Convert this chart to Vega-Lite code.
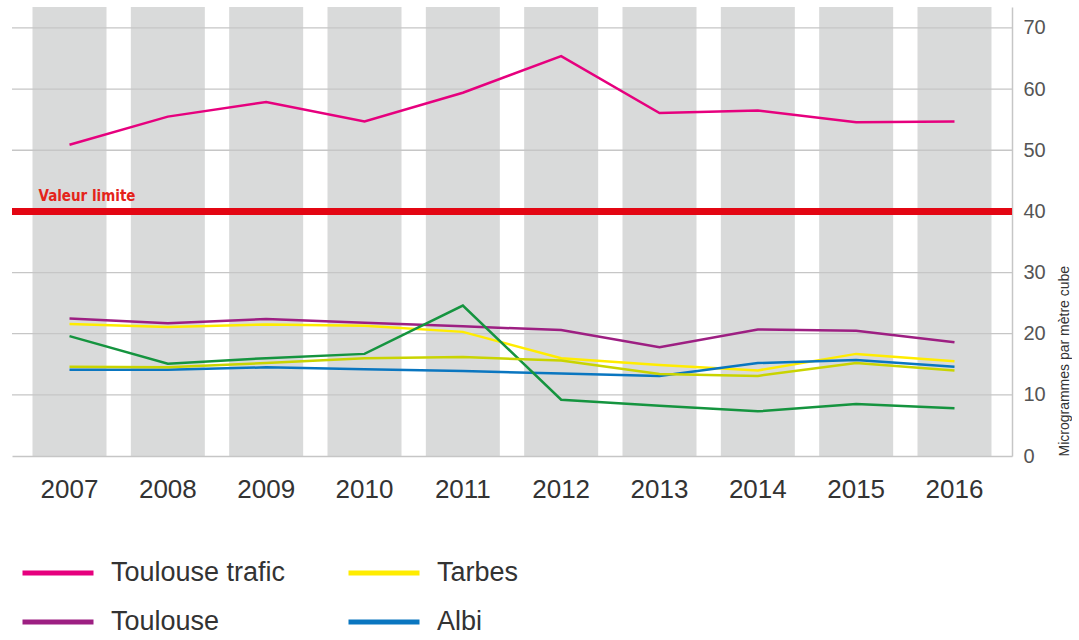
{
  "$schema": "https://vega.github.io/schema/vega-lite/v6.json",
  "width": 1000,
  "height": 449,
  "padding": {"left": 8, "top": 7, "right": 0, "bottom": 0},
  "background": "white",
  "config": {"view": {"stroke": null}, "font": "Liberation Sans"},
  "datasets": {
    "mesures": [
      {"annee": "2007", "site": "Toulouse trafic", "valeur": 50.9},
      {"annee": "2008", "site": "Toulouse trafic", "valeur": 55.5},
      {"annee": "2009", "site": "Toulouse trafic", "valeur": 57.9},
      {"annee": "2010", "site": "Toulouse trafic", "valeur": 54.7},
      {"annee": "2011", "site": "Toulouse trafic", "valeur": 59.4},
      {"annee": "2012", "site": "Toulouse trafic", "valeur": 65.4},
      {"annee": "2013", "site": "Toulouse trafic", "valeur": 56.1},
      {"annee": "2014", "site": "Toulouse trafic", "valeur": 56.5},
      {"annee": "2015", "site": "Toulouse trafic", "valeur": 54.6},
      {"annee": "2016", "site": "Toulouse trafic", "valeur": 54.7},
      {"annee": "2007", "site": "Toulouse", "valeur": 22.5},
      {"annee": "2008", "site": "Toulouse", "valeur": 21.7},
      {"annee": "2009", "site": "Toulouse", "valeur": 22.4},
      {"annee": "2010", "site": "Toulouse", "valeur": 21.8},
      {"annee": "2011", "site": "Toulouse", "valeur": 21.2},
      {"annee": "2012", "site": "Toulouse", "valeur": 20.6},
      {"annee": "2013", "site": "Toulouse", "valeur": 17.8},
      {"annee": "2014", "site": "Toulouse", "valeur": 20.7},
      {"annee": "2015", "site": "Toulouse", "valeur": 20.5},
      {"annee": "2016", "site": "Toulouse", "valeur": 18.6},
      {"annee": "2007", "site": "Tarbes", "valeur": 21.6},
      {"annee": "2008", "site": "Tarbes", "valeur": 21.1},
      {"annee": "2009", "site": "Tarbes", "valeur": 21.5},
      {"annee": "2010", "site": "Tarbes", "valeur": 21.3},
      {"annee": "2011", "site": "Tarbes", "valeur": 20.3},
      {"annee": "2012", "site": "Tarbes", "valeur": 16.0},
      {"annee": "2013", "site": "Tarbes", "valeur": 14.9},
      {"annee": "2014", "site": "Tarbes", "valeur": 14.0},
      {"annee": "2015", "site": "Tarbes", "valeur": 16.7},
      {"annee": "2016", "site": "Tarbes", "valeur": 15.5},
      {"annee": "2007", "site": "Albi", "valeur": 14.1},
      {"annee": "2008", "site": "Albi", "valeur": 14.1},
      {"annee": "2009", "site": "Albi", "valeur": 14.5},
      {"annee": "2010", "site": "Albi", "valeur": 14.2},
      {"annee": "2011", "site": "Albi", "valeur": 13.9},
      {"annee": "2012", "site": "Albi", "valeur": 13.5},
      {"annee": "2013", "site": "Albi", "valeur": 13.1},
      {"annee": "2014", "site": "Albi", "valeur": 15.2},
      {"annee": "2015", "site": "Albi", "valeur": 15.7},
      {"annee": "2016", "site": "Albi", "valeur": 14.6},
      {"annee": "2007", "site": "Série 5", "valeur": 19.6},
      {"annee": "2008", "site": "Série 5", "valeur": 15.1},
      {"annee": "2009", "site": "Série 5", "valeur": 16.0},
      {"annee": "2010", "site": "Série 5", "valeur": 16.7},
      {"annee": "2011", "site": "Série 5", "valeur": 24.6},
      {"annee": "2012", "site": "Série 5", "valeur": 9.2},
      {"annee": "2013", "site": "Série 5", "valeur": 8.2},
      {"annee": "2014", "site": "Série 5", "valeur": 7.3},
      {"annee": "2015", "site": "Série 5", "valeur": 8.5},
      {"annee": "2016", "site": "Série 5", "valeur": 7.8},
      {"annee": "2007", "site": "Série 6", "valeur": 14.6},
      {"annee": "2008", "site": "Série 6", "valeur": 14.5},
      {"annee": "2009", "site": "Série 6", "valeur": 15.2},
      {"annee": "2010", "site": "Série 6", "valeur": 16.0},
      {"annee": "2011", "site": "Série 6", "valeur": 16.2},
      {"annee": "2012", "site": "Série 6", "valeur": 15.6},
      {"annee": "2013", "site": "Série 6", "valeur": 13.4},
      {"annee": "2014", "site": "Série 6", "valeur": 13.1},
      {"annee": "2015", "site": "Série 6", "valeur": 15.2},
      {"annee": "2016", "site": "Série 6", "valeur": 14.0}
    ],
    "grille": [
      {"valeur": 10}, {"valeur": 20}, {"valeur": 30},
      {"valeur": 50}, {"valeur": 60}, {"valeur": 70}
    ],
    "limite": [
      {"annee": "2007", "valeur": 40, "label": "Valeur limite"}
    ]
  },
  "layer": [
    {
      "data": {"name": "mesures"},
      "transform": [{"filter": "datum.site === 'Toulouse trafic'"}],
      "mark": {"type": "rect", "color": "#d9dada"},
      "encoding": {
        "x": {
          "field": "annee", "type": "ordinal", "title": null,
          "scale": {"type": "band", "paddingInner": 0.2474, "paddingOuter": 0.2085},
          "axis": {
            "orient": "bottom", "title": null, "ticks": false, "labelAngle": 0,
            "domainColor": "#c6c6c6", "domainWidth": 1.5,
            "labelFontSize": 26, "labelColor": "#333333", "labelPadding": 20,
            "labelFont": "Liberation Sans"
          }
        }
      }
    },
    {
      "data": {"name": "grille"},
      "mark": {"type": "rule", "color": "#c6c6c6", "strokeWidth": 1.3},
      "encoding": {
        "y": {
          "field": "valeur", "type": "quantitative", "title": "Microgrammes par mètre cube",
          "scale": {"domain": [0, 73.43], "nice": false, "zero": true},
          "axis": {
            "orient": "right", "values": [0, 10, 20, 30, 40, 50, 60, 70],
            "grid": false, "ticks": false,
            "domainColor": "#c6c6c6", "domainWidth": 1.5,
            "labelFontSize": 20, "labelColor": "#555555", "labelPadding": 11,
            "labelFont": "Liberation Sans",
            "title": "Microgrammes par mètre cube",
            "titleFontSize": 14, "titleFontWeight": "normal", "titleColor": "#333333",
            "titleFont": "Liberation Sans",
            "titleAngle": 270, "titleAnchor": "start", "titlePadding": 26
          }
        }
      }
    },
    {
      "data": {"name": "limite"},
      "mark": {"type": "rule", "color": "#e30613", "strokeWidth": 7},
      "encoding": {
        "y": {"field": "valeur", "type": "quantitative", "title": "Microgrammes par mètre cube", "scale": {"domain": [0, 73.43], "nice": false}}
      }
    },
    {
      "data": {"name": "limite"},
      "mark": {
        "type": "text", "align": "left", "baseline": "alphabetic",
        "dx": 6, "dy": -10, "color": "#e4241b",
        "font": "Liberation Sans Narrow, DejaVu Sans Condensed", "fontWeight": "bold", "fontSize": 15
      },
      "encoding": {
        "x": {"field": "annee", "type": "ordinal", "title": null, "bandPosition": 0, "scale": {"type": "band", "paddingInner": 0.2474, "paddingOuter": 0.2085}},
        "y": {"field": "valeur", "type": "quantitative", "title": "Microgrammes par mètre cube", "scale": {"domain": [0, 73.43], "nice": false}},
        "text": {"field": "label"}
      }
    },
    {
      "data": {"name": "mesures"},
      "mark": {"type": "line", "strokeWidth": 2.5, "strokeJoin": "miter"},
      "encoding": {
        "x": {"field": "annee", "type": "ordinal", "title": null, "scale": {"type": "band", "paddingInner": 0.2474, "paddingOuter": 0.2085}},
        "y": {"field": "valeur", "type": "quantitative", "title": "Microgrammes par mètre cube", "scale": {"domain": [0, 73.43], "nice": false}},
        "color": {
          "field": "site", "type": "nominal",
          "scale": {
            "domain": ["Toulouse trafic", "Toulouse", "Tarbes", "Albi", "Série 5", "Série 6"],
            "range": ["#e6007e", "#9d1f82", "#ffec00", "#0a76c0", "#15943f", "#c9d400"]
          },
          "legend": {
            "values": ["Toulouse trafic", "Toulouse", "Tarbes", "Albi"],
            "orient": "none", "legendX": 8, "legendY": 551,
            "columns": 2, "title": null, "padding": 0,
            "symbolType": "stroke", "symbolSize": 5041, "symbolStrokeWidth": 5,
            "labelFontSize": 27, "labelColor": "#333333", "labelFont": "Liberation Sans",
            "labelLimit": 400,
            "labelOffset": 15, "columnPadding": 60, "rowPadding": 19, "clipHeight": 30
          }
        }
      }
    }
  ]
}
